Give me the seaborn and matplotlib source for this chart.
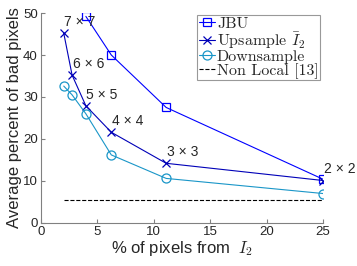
import numpy as np
import pandas as pd
import matplotlib
matplotlib.use("Agg")
import matplotlib.pyplot as plt
import seaborn as sns

# 数据
jbu_x = [4.0, 6.25, 11.11, 25.0]
jbu_y = [49.2, 40.0, 27.5, 10.4]

up_x = [2.04, 2.78, 4.0, 6.25, 11.11, 25.0]
up_y = [45.2, 35.2, 27.9, 21.6, 14.2, 10.1]
up_labels = ["7 \u00d7 7", "6 \u00d7 6", "5 \u00d7 5", "4 \u00d7 4", "3 \u00d7 3", "2 \u00d7 2"]

down_x = [2.04, 2.78, 4.0, 6.25, 11.11, 25.0]
down_y = [32.6, 30.5, 26.0, 16.2, 10.6, 7.0]

nonlocal_x = [2.04, 25.0]
nonlocal_y = [5.5, 5.5]

series_names = ["JBU", "Upsample $\\bar{I}_2$", "Downsample", "Non Local [13]"]

sns.set_style("white")
plt.rcParams['font.family'] = ['Liberation Sans', 'DejaVu Sans']
plt.rcParams['mathtext.fontset'] = 'cm'

fig = plt.figure(figsize=(3.57, 2.66), dpi=100)
ax = fig.add_axes([0.114, 0.162, 0.791, 0.789])

df_jbu = pd.DataFrame({"x": jbu_x, "y": jbu_y})
df_up = pd.DataFrame({"x": up_x, "y": up_y})
df_down = pd.DataFrame({"x": down_x, "y": down_y})
df_nl = pd.DataFrame({"x": nonlocal_x, "y": nonlocal_y})

lw = 0.8
sns.lineplot(data=df_jbu, x="x", y="y", ax=ax, color="#0000ff", lw=lw,
             marker="s", markersize=5.5, markerfacecolor="none",
             markeredgecolor="#0000ff", markeredgewidth=0.9, label=series_names[0])
sns.lineplot(data=df_up, x="x", y="y", ax=ax, color="#0000b8", lw=lw,
             marker="x", markersize=5.5, markeredgecolor="#0000b8",
             markeredgewidth=0.9, label=series_names[1])
sns.lineplot(data=df_down, x="x", y="y", ax=ax, color="#1a96c8", lw=lw,
             marker="o", markersize=6.5, markerfacecolor="none",
             markeredgecolor="#1a96c8", markeredgewidth=0.9, label=series_names[2])
sns.lineplot(data=df_nl, x="x", y="y", ax=ax, color="black", lw=lw,
             linestyle="--", dashes=(4, 2.5), label=series_names[3])

# 窗口大小标注
for xv, yv, txt in zip(up_x, up_y, up_labels):
    ax.annotate(txt, (xv, yv), xytext=(0.3, 8), textcoords="offset points",
                ha="left", va="center", fontsize=10)

ax.set_xlim(0, 25)
ax.set_ylim(0, 50)
ax.set_xticks([0, 5, 10, 15, 20, 25])
ax.set_yticks([0, 10, 20, 30, 40, 50])
ax.tick_params(direction="in", length=3, color="#808080", labelsize=9.5, pad=2,
               bottom=True, left=True)
for s in ["top", "right"]:
    ax.spines[s].set_visible(False)
for s in ["left", "bottom"]:
    ax.spines[s].set_color("#808080")
    ax.spines[s].set_linewidth(0.8)

ax.set_xlabel("% of pixels from  $I_2$", fontsize=12, labelpad=1)
ax.set_ylabel("Average percent of bad pixels", fontsize=12, labelpad=1)

leg = ax.legend(loc="upper right", bbox_to_anchor=(0.99, 0.99),
                prop={"family": "cmr10", "size": 11.5},
                frameon=True, fancybox=False, edgecolor="#808080",
                handlelength=1.0, handletextpad=0.15, labelspacing=-0.05,
                borderpad=0.1, borderaxespad=0.0)
leg.get_frame().set_linewidth(0.8)

fig.savefig("out.png", dpi=100)
